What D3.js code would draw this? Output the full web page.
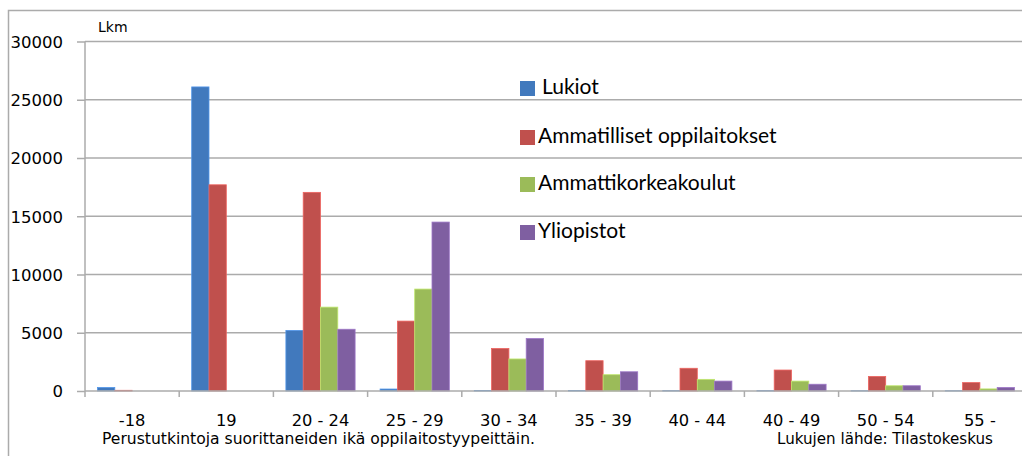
<!DOCTYPE html>
<html>
<head>
<meta charset="utf-8">
<script src="https://cdn.jsdelivr.net/npm/d3@7"></script>
<style>
  html, body { margin: 0; padding: 0; background: #fff; }
  svg { display: block; }
  .tick-label { font-family: "DejaVu Sans", Verdana, sans-serif; fill: #000; }
  .legend-label { font-family: Lato, "Open Sans", sans-serif; fill: #000; }
</style>
</head>
<body>
<svg id="chart" width="1022" height="456"></svg>
<script>
// Age groups (x categories)
const categories = ['-18', '19', '20 - 24', '25 - 29', '30 - 34', '35 - 39', '40 - 44', '40 - 49', '50 - 54', '55 -'];

// Series names and values per age group (Lkm)
const seriesNames = ['Lukiot', 'Ammatilliset oppilaitokset', 'Ammattikorkeakoulut', 'Yliopistot'];
const lukiot = [300, 26100, 5200, 170, 50, 40, 30, 30, 20, 20];
const ammatilliset = [60, 17700, 17050, 6000, 3650, 2600, 1950, 1800, 1250, 720];
const amk = [0, 0, 7200, 8750, 2750, 1400, 1000, 850, 450, 180];
const yliopistot = [0, 0, 5300, 14500, 4500, 1650, 850, 580, 450, 300];
const seriesValues = [lukiot, ammatilliset, amk, yliopistot];

const colors = ['#4179BD', '#C0504D', '#9BBB59', '#7F5FA1'];
const yTicks = [0, 5000, 10000, 15000, 20000, 25000, 30000];

const svg = d3.select('#chart');
const gridColor = '#ABABAB';

// Outer frame (only left and top edges fall inside the picture)
svg.append('path')
    .attr('d', 'M8.5,460V10.5H1030')
    .attr('fill', 'none')
    .attr('stroke', gridColor)
    .attr('stroke-width', 1.5);

const plot = { left: 85, right: 1027, top: 41.5, bottom: 391 };

const x = d3.scaleBand().domain(categories).range([plot.left, plot.right]);
const xInner = d3.scaleBand().domain(d3.range(seriesNames.length))
    .range([12.5, x.bandwidth() - 12.5]);
const y = d3.scaleLinear().domain([0, 30000]).range([plot.bottom, plot.top]);

// Gridlines
svg.append('g')
    .selectAll('line')
    .data(yTicks.filter(d => d > 0))
    .join('line')
    .attr('x1', plot.left).attr('x2', 1022)
    .attr('y1', d => y(d)).attr('y2', d => y(d))
    .attr('stroke', gridColor)
    .attr('stroke-width', 1.5);

// Y axis
const yAxis = svg.append('g').attr('transform', `translate(${plot.left},0)`)
    .call(d3.axisLeft(y).tickValues(yTicks).tickSize(8).tickPadding(14).tickFormat(d3.format('d')));
yAxis.select('.domain').remove();
yAxis.selectAll('.tick line').attr('stroke', gridColor).attr('stroke-width', 1.5);
yAxis.selectAll('.tick text')
    .attr('class', 'tick-label')
    .style('font-size', '16.5px')
    .attr('dy', '0.36em');
yAxis.append('line')
    .attr('x1', 0).attr('x2', 0)
    .attr('y1', plot.top).attr('y2', plot.bottom + 6)
    .attr('stroke', gridColor).attr('stroke-width', 1.5);

// Bars
const groups = svg.append('g')
    .selectAll('g')
    .data(categories)
    .join('g')
    .attr('transform', d => `translate(${x(d)},0)`);

groups.selectAll('rect')
    .data((d, i) => seriesValues.map((vals, s) => ({ s, v: vals[i] })))
    .join('rect')
    .attr('x', d => xInner(d.s))
    .attr('width', xInner.bandwidth())
    .attr('y', d => y(d.v))
    .attr('height', d => plot.bottom - y(d.v))
    .attr('fill', d => colors[d.s])
    .attr('stroke', d => d3.color(colors[d.s]).brighter(0.6))
    .attr('stroke-width', d => d.v > 0 ? 0.8 : 0);

// X axis
const xAxis = svg.append('g').attr('transform', `translate(0,${plot.bottom})`);
xAxis.append('line')
    .attr('x1', plot.left).attr('x2', 1022)
    .attr('stroke', gridColor).attr('stroke-width', 1.5);
xAxis.selectAll('.xtick')
    .data(categories.slice(1))
    .join('line')
    .attr('class', 'xtick')
    .attr('x1', d => x(d)).attr('x2', d => x(d))
    .attr('y1', 0).attr('y2', 6)
    .attr('stroke', gridColor).attr('stroke-width', 1.5);
xAxis.selectAll('text')
    .data(categories)
    .join('text')
    .attr('class', 'tick-label')
    .attr('x', d => x(d) + x.bandwidth() / 2)
    .attr('y', 35)
    .attr('text-anchor', 'middle')
    .style('font-size', '16.3px')
    .text(d => d);

// Unit label
svg.append('text')
    .attr('class', 'tick-label')
    .attr('x', 98).attr('y', 32)
    .style('font-size', '14px')
    .text('Lkm');

// Footer texts
svg.append('text')
    .attr('class', 'tick-label')
    .attr('x', 102).attr('y', 444)
    .style('font-size', '15.2px')
    .attr('textLength', 433)
    .attr('lengthAdjust', 'spacingAndGlyphs')
    .text('Perustutkintoja suorittaneiden ikä oppilaitostyypeittäin.');
svg.append('text')
    .attr('class', 'tick-label')
    .attr('x', 777).attr('y', 444)
    .style('font-size', '15.2px')
    .attr('textLength', 216)
    .attr('lengthAdjust', 'spacingAndGlyphs')
    .text('Lukujen lähde: Tilastokeskus');

// Legend
const legend = svg.append('g')
    .selectAll('g')
    .data(seriesNames)
    .join('g')
    .attr('transform', (d, i) => `translate(520,${[81, 130, 177, 225][i]})`);
legend.append('rect')
    .attr('width', 15).attr('height', 15)
    .attr('fill', (d, i) => colors[i]);
legend.append('text')
    .attr('class', 'legend-label')
    .attr('x', (d, i) => i === 0 ? 22 : 18)
    .attr('y', 13)
    .style('font-size', '21px')
    .text(d => d);
</script>
</body>
</html>
